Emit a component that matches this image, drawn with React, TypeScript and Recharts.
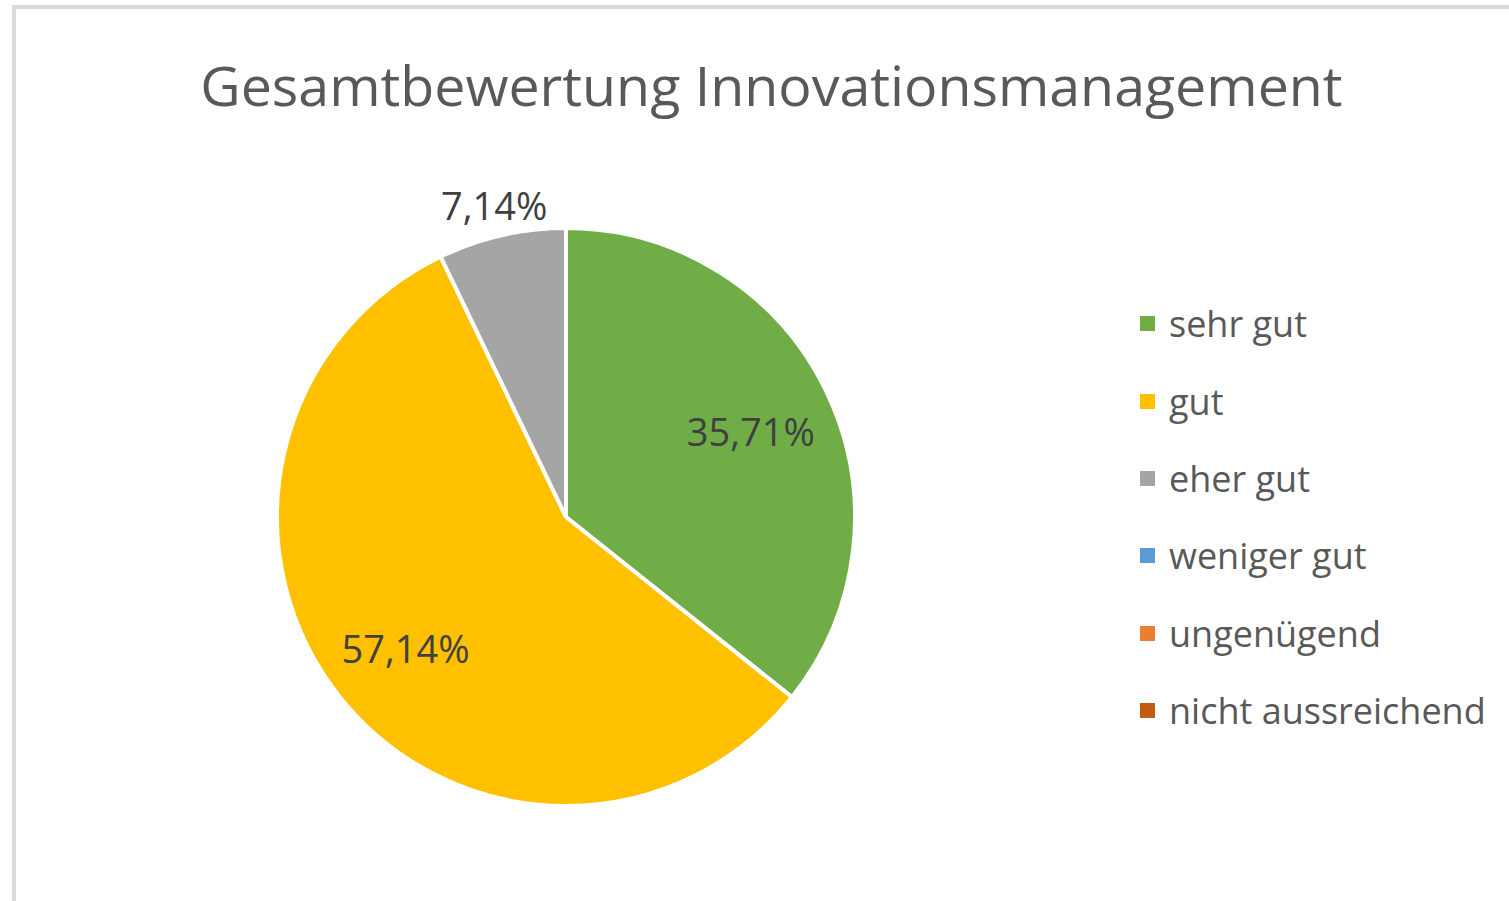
import React from "react";
import { PieChart, Pie, Cell, Legend } from "recharts";

const categories = ["sehr gut", "gut", "eher gut", "weniger gut", "ungenügend", "nicht aussreichend"];
const shares = [35.71, 57.14, 7.14, 0, 0, 0];
const colors = ["#70ad47", "#ffc000", "#a5a5a5", "#5b9bd5", "#ed7d31", "#c55a11"];

const data = categories.map((name, i) => ({ name, value: shares[i] }));

const RADIAN = Math.PI / 180;
const font = "'Open Sans', sans-serif";

const renderLabel = (props: any) => {
  const { cx, cy, midAngle, outerRadius, value } = props;
  if (!value) return null;
  // small slices get their label outside, like Excel does
  const r = value < 10 ? outerRadius + 34 : outerRadius * 0.71;
  const x = cx + r * Math.cos(-midAngle * RADIAN);
  const y = cy + r * Math.sin(-midAngle * RADIAN);
  return (
    <text
      x={x}
      y={y + 3}
      fill="#404040"
      fontSize={38}
      fontFamily={font}
      textAnchor="middle"
      dominantBaseline="central"
    >
      {value.toFixed(2).replace(".", ",")}%
    </text>
  );
};

const renderLegend = (props: any) => {
  const items = [...(props.payload || [])].sort(
    (a: any, b: any) => categories.indexOf(a.value) - categories.indexOf(b.value)
  );
  return (
    <div style={{ fontFamily: font }}>
      {items.map((entry: any) => (
        <div
          key={entry.value}
          style={{ display: "flex", alignItems: "center", height: 77.4 }}
        >
          <span
            style={{
              width: 15,
              height: 15,
              background: entry.color,
              display: "inline-block",
              marginRight: 14,
            }}
          />
          <span style={{ fontSize: 36, color: "#595959" }}>{entry.value}</span>
        </div>
      ))}
    </div>
  );
};

export default function App() {
  return (
    <div
      style={{
        position: "absolute",
        left: 0,
        top: 0,
        width: 1509,
        height: 901,
        background: "#fff",
        overflow: "hidden",
      }}
    >
      <div
        style={{
          position: "absolute",
          left: 12,
          top: 5,
          width: 1520,
          height: 920,
          borderLeft: "4px solid #d9d9d9",
          borderTop: "4px solid #d9d9d9",
        }}
      />
      <div
        style={{
          position: "absolute",
          left: 0,
          top: 50,
          width: 1543,
          textAlign: "center",
          fontFamily: font,
          fontSize: 55.5,
          color: "#595959",
          lineHeight: "70px",
        }}
      >
        Gesamtbewertung Innovationsmanagement
      </div>
      <div style={{ position: "absolute", left: 0, top: 0 }}>
        <PieChart width={1509} height={901} margin={{ top: 0, right: 0, bottom: 0, left: 0 }}>
          <Pie
            data={data}
            dataKey="value"
            nameKey="name"
            cx={566}
            cy={517}
            outerRadius={289}
            startAngle={90}
            endAngle={-270}
            stroke="#ffffff"
            strokeWidth={4}
            label={renderLabel}
            labelLine={false}
            isAnimationActive={false}
          >
            {data.map((d, i) => (
              <Cell key={d.name} fill={colors[i]} />
            ))}
          </Pie>
          <Legend
            layout="vertical"
            align="right"
            verticalAlign="top"
            content={renderLegend}
            wrapperStyle={{ left: 1140, top: 285, width: 369 }}
          />
        </PieChart>
      </div>
    </div>
  );
}
